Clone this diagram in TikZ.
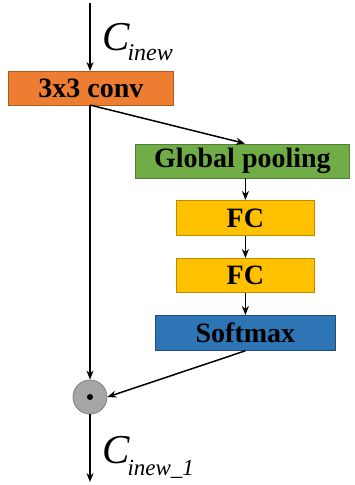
\documentclass[tikz,border=0pt]{standalone}
\usepackage{fontspec}
\setmainfont{Liberation Serif}
\usetikzlibrary{arrows.meta}
\definecolor{convfill}{HTML}{ED7D31}
\definecolor{convdraw}{HTML}{AE5A21}
\definecolor{poolfill}{HTML}{70AD47}
\definecolor{pooldraw}{HTML}{507E32}
\definecolor{fcfill}{HTML}{FFC000}
\definecolor{fcdraw}{HTML}{BC8C00}
\definecolor{smfill}{HTML}{2E75B6}
\definecolor{smdraw}{HTML}{1F4E79}
\definecolor{cfill}{HTML}{A6A6A6}
\definecolor{cdraw}{HTML}{7F7F7F}
\tikzset{
  box/.style={draw, line width=0.8pt, inner sep=0pt, anchor=north west,
    font=\fontsize{28}{28}\selectfont\bfseries},
  conn/.style={line width=1.5pt, -{Stealth[length=9pt,width=7pt]}},
  lab/.style={anchor=base west, inner sep=0pt}
}
\begin{document}
\begin{tikzpicture}[x=1pt,y=-1pt]
\useasboundingbox (0,0) rectangle (354,485);
\node[box, fill=convfill, draw=convdraw, minimum width=165pt, minimum height=34pt] (conv) at (8,71) {3x3 conv};
\node[box, fill=poolfill, draw=pooldraw, minimum width=214pt, minimum height=34pt] (pool) at (135,143.5) {Global pooling};
\node[box, fill=fcfill, draw=fcdraw, minimum width=138pt, minimum height=35pt] (fc1) at (176,200) {FC};
\node[box, fill=fcfill, draw=fcdraw, minimum width=138pt, minimum height=34pt] (fc2) at (176,258) {FC};
\node[box, fill=smfill, draw=smdraw, minimum width=180pt, minimum height=35pt] (sm) at (155,315) {Softmax};
\node[circle, draw=cdraw, fill=cfill, line width=0.8pt, minimum size=34pt, inner sep=0pt] (mul) at (90,397) {};
\fill (mul.center) circle (3pt);
\coordinate (top) at (90,3);
\coordinate (bot) at (90,482);
\coordinate (convout) at (90,105);
\coordinate (poolin) at (245,143.5);
\draw[conn] (top) -- (conv.north -| top);
\draw[conn] (convout) -- (mul.north);
\draw[conn] (convout) -- (poolin);
\draw[conn] (pool.south -| fc1.north) -- (fc1.north);
\draw[conn] (fc1.south) -- (fc2.north);
\draw[conn] (fc2.south) -- (sm.north -| fc2.south);
\draw[conn] (sm.south) -- (mul.east);
\draw[conn] (mul.south) -- (bot);
\node[lab] (l1) at (102,50) {\fontsize{41}{41}\selectfont\itshape C\hspace{-2pt}\raisebox{-10pt}{\fontsize{24}{24}\selectfont inew}};
\node[lab] (l2) at (102,463) {\fontsize{41}{41}\selectfont\itshape C\hspace{-2pt}\raisebox{-12pt}{\fontsize{23}{23}\selectfont inew\_1}};
\end{tikzpicture}
\end{document}
